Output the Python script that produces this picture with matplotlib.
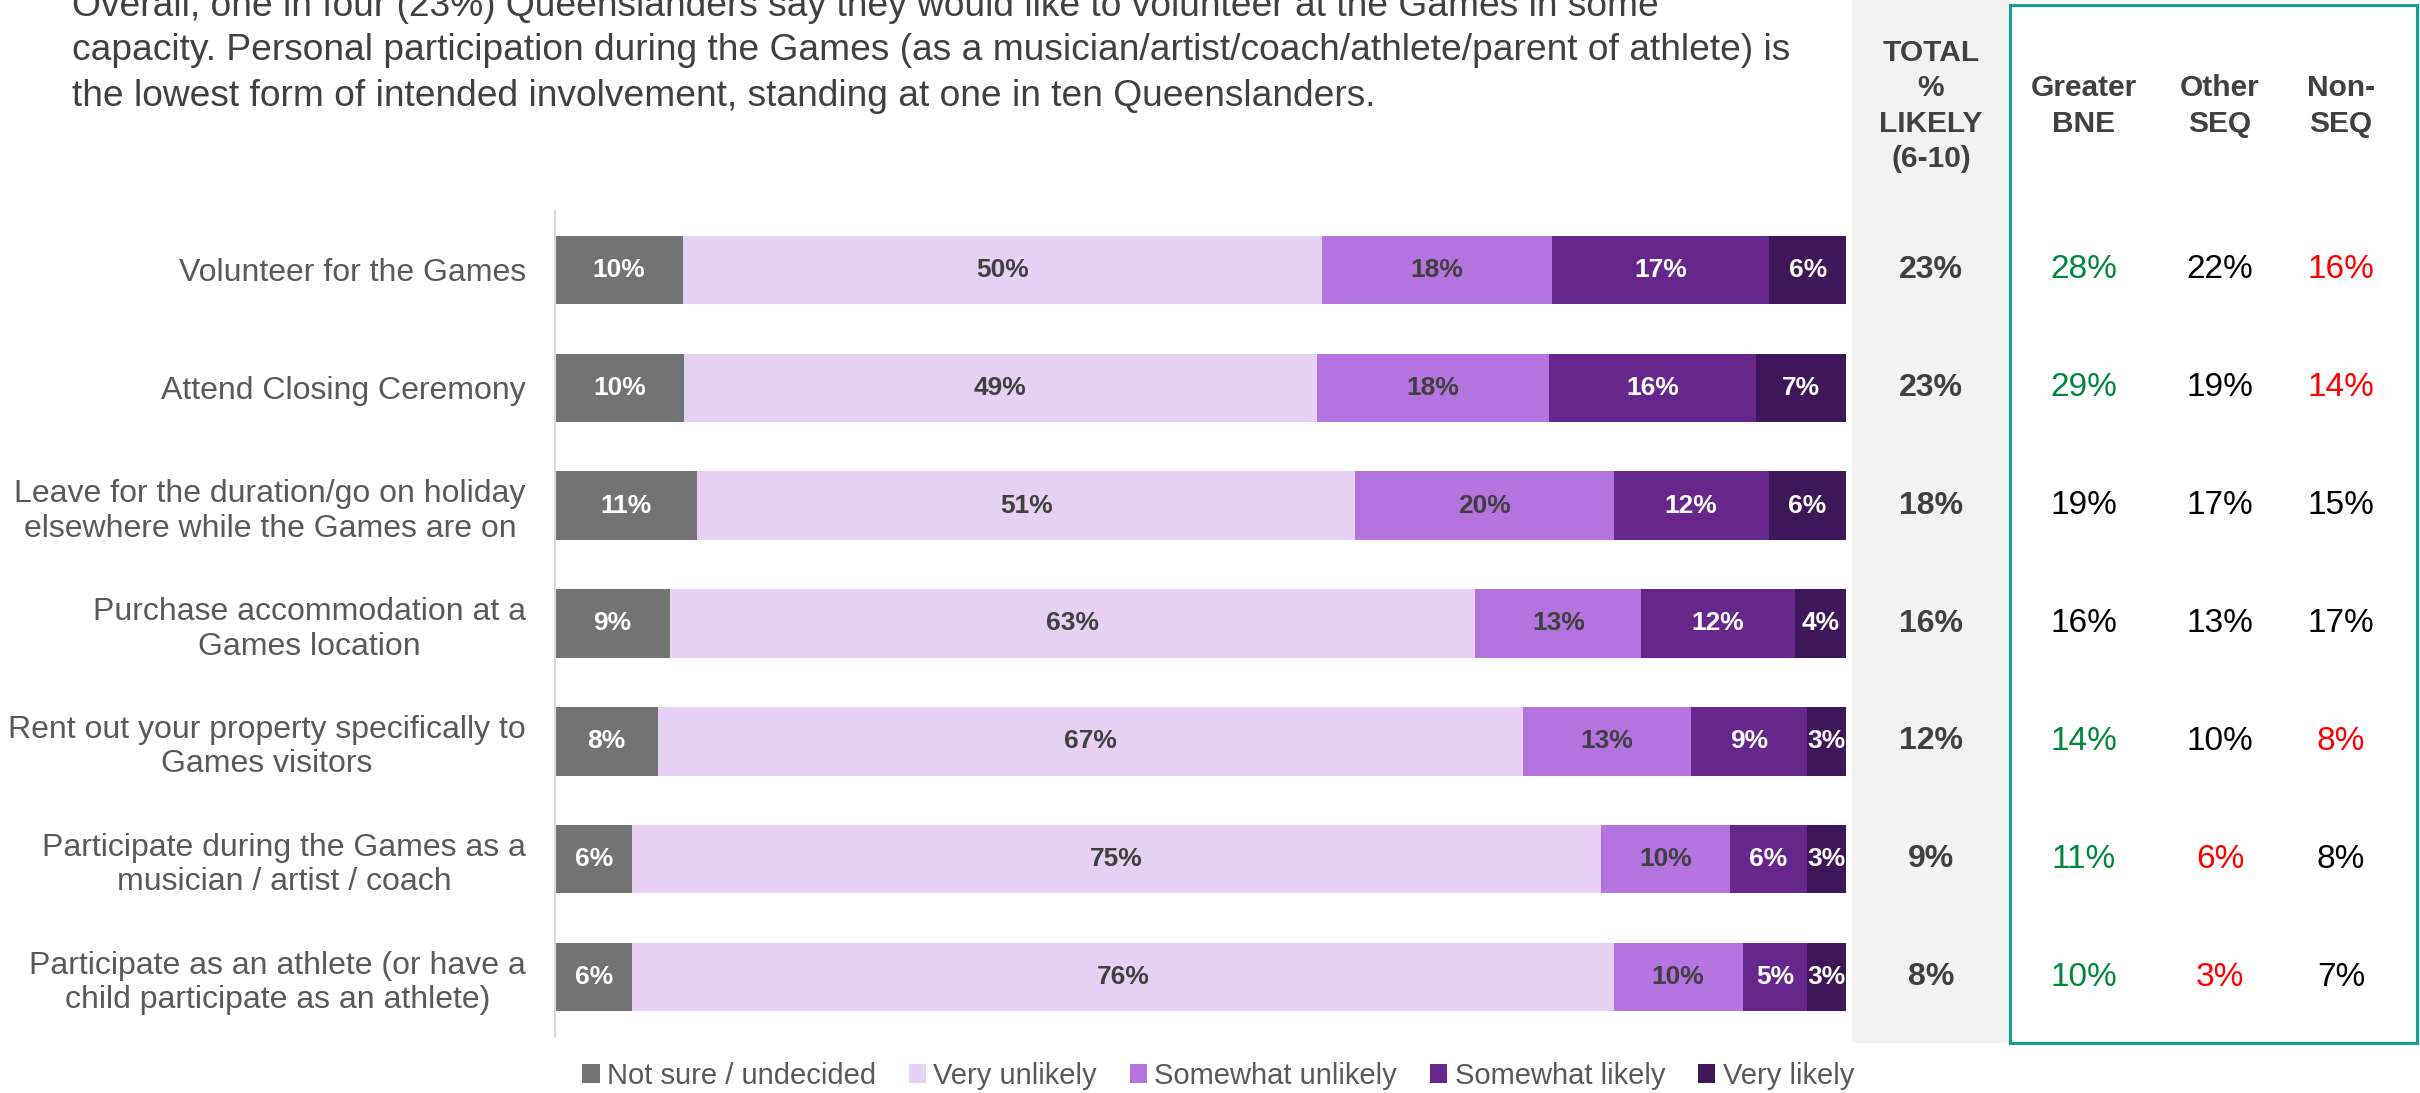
import matplotlib.pyplot as plt
from matplotlib.patches import Rectangle, Patch
from matplotlib.transforms import blended_transform_factory

plt.rcParams['font.family'] = ['Liberation Sans', 'DejaVu Sans']

categories = [
    "Volunteer for the Games",
    "Attend Closing Ceremony",
    "Leave for the duration/go on holiday\nelsewhere while the Games are on",
    "Purchase accommodation at a\nGames location",
    "Rent out your property specifically to\nGames visitors",
    "Participate during the Games as a\nmusician / artist / coach",
    "Participate as an athlete (or have a\nchild participate as an athlete)",
]
series = ["Not sure / undecided", "Very unlikely", "Somewhat unlikely",
          "Somewhat likely", "Very likely"]
not_sure = [10, 10, 11, 9, 8, 6, 6]
very_unlikely = [50, 49, 51, 63, 67, 75, 76]
somewhat_unlikely = [18, 18, 20, 13, 13, 10, 10]
somewhat_likely = [17, 16, 12, 12, 9, 6, 5]
very_likely = [6, 7, 6, 4, 3, 3, 3]

total_likely = [23, 23, 18, 16, 12, 9, 8]
greater_bne = [28, 29, 19, 16, 14, 11, 10]
other_seq = [22, 19, 17, 13, 10, 6, 3]
non_seq = [16, 14, 15, 17, 8, 8, 7]
# significance vs total: + higher, - lower, '' none
bne_sig = ['+', '+', '', '', '+', '+', '+']
oseq_sig = ['', '', '', '', '', '-', '-']
nseq_sig = ['-', '-', '', '', '-', '', '']

colors = ['#737373', '#E6D1F4', '#B474E0', '#65278B', '#3F1659']
label_colors = ['white', '#404040', '#404040', 'white', 'white']
sig_colors = {'+': '#00873C', '-': '#FF0000', '': '#000000'}

W, H = 2420, 1093
fig = plt.figure(figsize=(W / 100, H / 100), dpi=100)
fig.patch.set_facecolor('white')

ax = fig.add_axes([555 / W, 1 - 1036 / H, 1291 / W, 825 / H])
data = [not_sure, very_unlikely, somewhat_unlikely, somewhat_likely, very_likely]
ys = list(range(len(categories)))
for i in ys:
    row = [s[i] for s in data]
    tot = sum(row)
    left = 0
    for j, v in enumerate(row):
        w = v / tot
        ax.barh(i, w, left=left, height=0.58, color=colors[j], edgecolor='none')
        ax.text(left + w / 2, i, f"{v}%", ha='center', va='center',
                fontsize=19, fontweight='bold', color=label_colors[j])
        left += w

ax.set_xlim(0, 1)
ax.set_ylim(6.5, -0.5)
ax.set_yticks(ys)
ax.set_yticklabels(categories, fontsize=23, color='#595959',
                   multialignment='center', linespacing=1.2)
ax.tick_params(axis='y', length=0, pad=21)
ax.set_xticks([])
for s in ['top', 'right', 'bottom']:
    ax.spines[s].set_visible(False)
ax.spines['left'].set_color('#D9D9D9')
ax.spines['left'].set_linewidth(1.5)

# right-hand table
fig.add_artist(Rectangle((1852 / W, 1 - 1043 / H), (2010 - 1852) / W, 1043 / H,
                         transform=fig.transFigure, facecolor='#F2F2F2',
                         edgecolor='none', zorder=0))
fig.add_artist(Rectangle((2010 / W, 1 - 1043 / H), (2417 - 2010) / W, (1043 - 5) / H,
                         transform=fig.transFigure, fill=False,
                         edgecolor='#11A09B', linewidth=2.2, zorder=1))

fig.text(1931 / W, 1 - 106 / H, "TOTAL\n%\nLIKELY\n(6-10)", ha='center', va='center',
         fontsize=21.5, fontweight='bold', color='#404040', linespacing=1.33)
for x, lab in [(2084, "Greater\nBNE"), (2220, "Other\nSEQ"), (2341, "Non-\nSEQ")]:
    fig.text(x / W, 1 - 106 / H, lab, ha='center', va='center', fontsize=21.5,
             fontweight='bold', color='#404040', linespacing=1.33)

trans = blended_transform_factory(fig.transFigure, ax.transData)
for i in ys:
    ax.text(1931 / W, i, f"{total_likely[i]}%", transform=trans, ha='center',
            va='center', fontsize=23, fontweight='bold', color='#404040', clip_on=False)
    for x, vals, sig in [(2084, greater_bne, bne_sig), (2220, other_seq, oseq_sig),
                         (2341, non_seq, nseq_sig)]:
        ax.text(x / W, i, f"{vals[i]}%", transform=trans, ha='center', va='center',
                fontsize=24, color=sig_colors[sig[i]], clip_on=False)

# headline text
title_lines = [
    "Overall, one in four (23%) Queenslanders say they would like to volunteer at the Games in some",
    "capacity. Personal participation during the Games (as a musician/artist/coach/athlete/parent of athlete) is",
    "the lowest form of intended involvement, standing at one in ten Queenslanders.",
]
for k, line in enumerate(title_lines):
    fig.text(72 / W, 1 - (6 + 45 * k) / H, line, ha='left', va='center',
             fontsize=26.7, color='#404040')

handles = [Patch(facecolor=c, edgecolor='none') for c in colors]
fig.legend(handles, series, loc='center', bbox_to_anchor=(1218 / W, 1 - 1076 / H),
           ncol=5, frameon=False, fontsize=21, handlelength=0.6, handleheight=0.6,
           handletextpad=0.25, columnspacing=1.12, labelcolor='#595959')

fig.savefig('out.png', dpi=100)
